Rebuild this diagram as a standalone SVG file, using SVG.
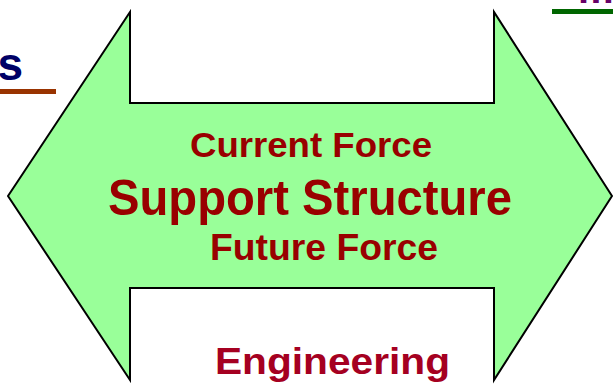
<svg xmlns="http://www.w3.org/2000/svg" width="613" height="385" viewBox="0 0 613 385">
<style>
.b{font-family:"Liberation Sans",Arial,sans-serif;font-weight:bold}
.red{fill:#990000}
</style>
<rect width="613" height="385" fill="#ffffff"/>
<g id="left-label">
<text class="b" x="23" y="80" font-size="46" text-anchor="end" fill="#000066">s</text>
<rect x="0" y="89" width="56" height="5" fill="#993300"/>
</g>
<g id="right-label">
<text class="b" x="578" y="3" font-size="40" fill="#660066">m</text>
<rect x="552" y="9" width="61" height="5" fill="#006600"/>
</g>
<g id="arrow">
<polygon points="8,196 130,12 130,103 494,103 494,12 612,196 494,380 494,288 130,288 130,380" fill="#99FF99" stroke="#000000" stroke-width="2" stroke-linejoin="miter"/>
<text class="b red" x="190" y="157" font-size="35" textLength="242" lengthAdjust="spacingAndGlyphs">Current Force</text>
<text class="b red" x="108" y="215" font-size="50" textLength="404" lengthAdjust="spacingAndGlyphs">Support Structure</text>
<text class="b red" x="210" y="260" font-size="36" textLength="228" lengthAdjust="spacingAndGlyphs">Future Force</text>
</g>
<g id="bottom-label">
<text class="b" x="215" y="374" font-size="36" fill="#A50021" textLength="235" lengthAdjust="spacingAndGlyphs">Engineering</text>
</g>
<g id="connectors"></g>
</svg>
